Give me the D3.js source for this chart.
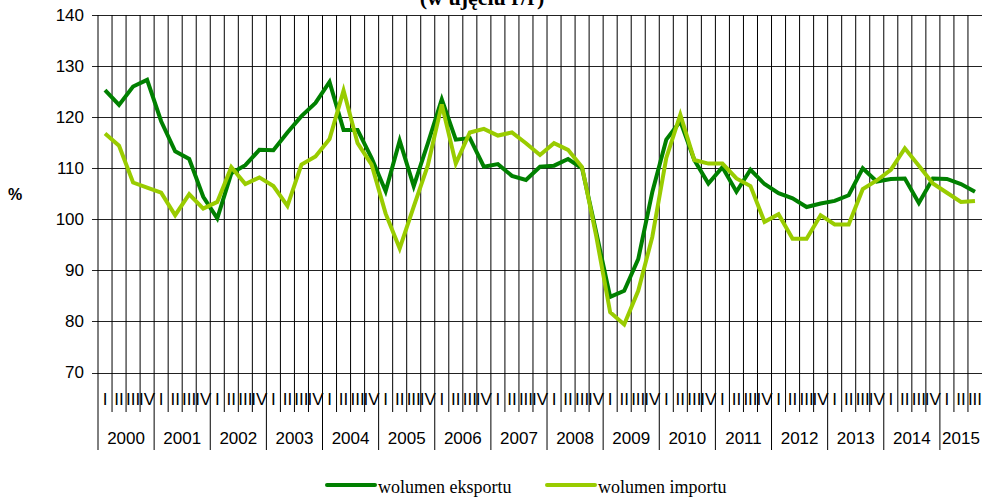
<!DOCTYPE html>
<html>
<head>
<meta charset="utf-8">
<script src="https://cdn.jsdelivr.net/npm/d3@7"></script>
<style>
  body { margin: 0; background: #fff; }
  svg { display: block; }
</style>
</head>
<body>
<div id="chart"></div>
<script>
// lata i kwartaly (2015 tylko I-III)
var years = ['2000','2001','2002','2003','2004','2005','2006','2007','2008','2009','2010','2011','2012','2013','2014','2015'];
var quarterNames = ['I','II','III','IV'];
var quartersInYear = [4,4,4,4,4,4,4,4,4,4,4,4,4,4,4,3];

var yTicks = [70, 80, 90, 100, 110, 120, 130, 140];

var exportVolume = [
  125.3, 122.4, 126.0, 127.3,  119.2, 113.3, 111.8, 104.4,
  100.2, 109.0, 110.6, 113.6,  113.5, 117.0, 120.2, 122.8,
  126.9, 117.5, 117.5, 112.0,  105.5, 115.4, 106.5, 114.8,
  123.5, 115.6, 115.9, 110.3,  110.8, 108.5, 107.7, 110.3,
  110.5, 111.8, 110.0, 97.5,   84.8, 86.0, 92.2, 105.3,
  115.6, 119.2, 111.6, 107.0,  110.2, 105.4, 109.7, 106.9,
  105.1, 104.1, 102.4, 103.1,  103.6, 104.7, 110.0, 107.4,
  107.9, 108.0, 103.2, 108.0,  107.9, 106.9, 105.4
];

var importVolume = [
  116.8, 114.4, 107.2, 106.2,  105.2, 100.8, 104.9, 102.1,
  103.4, 110.2, 106.9, 108.2,  106.5, 102.6, 110.7, 112.3,
  115.7, 125.2, 114.9, 110.7,  101.1, 94.3, 102.5, 110.5,
  122.5, 110.9, 117.0, 117.7,  116.4, 117.0, 114.9, 112.6,
  114.9, 113.6, 110.2, 96.8,   81.8, 79.4, 86.0, 96.5,
  112.0, 120.5, 111.6, 110.9,  110.9, 108.0, 106.5, 99.5,
  101.0, 96.2, 96.2, 100.8,    99.0, 99.0, 105.9, 107.6,
  109.7, 113.9, 110.5, 107.0,  105.2, 103.4, 103.6
];

var seriesNames = ['wolumen eksportu', 'wolumen importu'];
var seriesColors = ['#008000', '#99cc00'];

var width = 982, height = 502;
var plot = { left: 98, right: 982, top: 15, bottom: 372.5 };

// lista kategorii: rok + kwartal
var categories = [];
years.forEach(function(year, yi) {
  for (var q = 0; q < quartersInYear[yi]; q++) {
    categories.push({ year: year, quarter: quarterNames[q], key: year + '-' + q, q: q });
  }
});

var svg = d3.select('#chart').append('svg')
  .attr('width', width)
  .attr('height', height);

var x = d3.scaleBand()
  .domain(categories.map(function(d) { return d.key; }))
  .range([plot.left, plot.right])
  .padding(0);

var y = d3.scaleLinear()
  .domain([70, 140])
  .range([plot.bottom, plot.top]);

// tytul (widoczna tylko dolna linia)
svg.append('text')
  .attr('x', 482)
  .attr('y', 5)
  .attr('text-anchor', 'middle')
  .style('font-family', '"Liberation Serif", "Times New Roman", serif')
  .style('font-weight', 'bold')
  .style('font-size', '22px')
  .text('(w ujęciu r/r)');

// poziome linie siatki + etykiety osi Y
var yAxis = d3.axisLeft(y)
  .tickValues(yTicks)
  .tickSize(-(plot.right - plot.left + 6))
  .tickPadding(8)
  .tickFormat(d3.format('d'));

var yg = svg.append('g')
  .attr('transform', 'translate(' + (plot.left - 6) + ',0)')
  .call(yAxis);
yg.select('.domain').remove();
yg.selectAll('.tick line')
  .attr('stroke', '#222')
  .attr('shape-rendering', 'crispEdges');
yg.selectAll('.tick text')
  .attr('x', -8)
  .style('font-family', 'Arial, "Liberation Sans", sans-serif')
  .style('font-size', '17px')
  .attr('fill', '#000');

// pionowe linie siatki na granicach kwartalow
svg.append('g')
  .selectAll('line')
  .data(categories)
  .enter().append('line')
  .attr('x1', function(d) { return x(d.key); })
  .attr('x2', function(d) { return x(d.key); })
  .attr('y1', plot.top)
  .attr('y2', function(d) { return d.q === 0 ? 450 : 412; })
  .attr('stroke', '#000')
  .attr('stroke-width', 1);

// os X - kwartaly
svg.append('g')
  .selectAll('text')
  .data(categories)
  .enter().append('text')
  .attr('x', function(d) { return x(d.key) + x.bandwidth() / 2; })
  .attr('y', 405)
  .attr('text-anchor', 'middle')
  .style('font-family', 'Arial, "Liberation Sans", sans-serif')
  .style('font-size', '17px')
  .text(function(d) { return d.quarter; });

// os X - lata
svg.append('g')
  .selectAll('text')
  .data(years)
  .enter().append('text')
  .attr('x', function(d, i) {
    var first = x(d + '-0');
    var last = x(d + '-' + (quartersInYear[i] - 1)) + x.bandwidth();
    return (first + last) / 2;
  })
  .attr('y', 444)
  .attr('text-anchor', 'middle')
  .style('font-family', 'Arial, "Liberation Sans", sans-serif')
  .style('font-size', '17px')
  .text(function(d) { return d; });

// etykieta osi Y
svg.append('text')
  .attr('x', 15)
  .attr('y', 200)
  .attr('text-anchor', 'middle')
  .style('font-family', 'Arial, "Liberation Sans", sans-serif')
  .style('font-weight', 'bold')
  .style('font-size', '16px')
  .text('%');

function drawSeries(values, color) {
  var line = d3.line()
    .x(function(d, i) { return x(categories[i].key) + x.bandwidth() / 2; })
    .y(function(d) { return y(d); });
  svg.append('path')
    .datum(values)
    .attr('d', line)
    .attr('fill', 'none')
    .attr('stroke', color)
    .attr('stroke-width', 4)
    .attr('stroke-linejoin', 'miter');
}

drawSeries(exportVolume, seriesColors[0]);
drawSeries(importVolume, seriesColors[1]);

// legenda
var legendX = [327, 547];
var legend = svg.append('g')
  .selectAll('g')
  .data(seriesNames)
  .enter().append('g')
  .attr('transform', function(d, i) { return 'translate(' + legendX[i] + ',485)'; });

legend.append('line')
  .attr('x1', 0)
  .attr('x2', 48)
  .attr('y1', 0)
  .attr('y2', 0)
  .attr('stroke', function(d, i) { return seriesColors[i]; })
  .attr('stroke-width', 4)
  .attr('stroke-linecap', 'round');

legend.append('text')
  .attr('x', 51)
  .attr('y', 7.5)
  .style('font-family', '"Liberation Serif", "Times New Roman", serif')
  .style('font-size', '18px')
  .text(function(d) { return d; });
</script>
</body>
</html>
